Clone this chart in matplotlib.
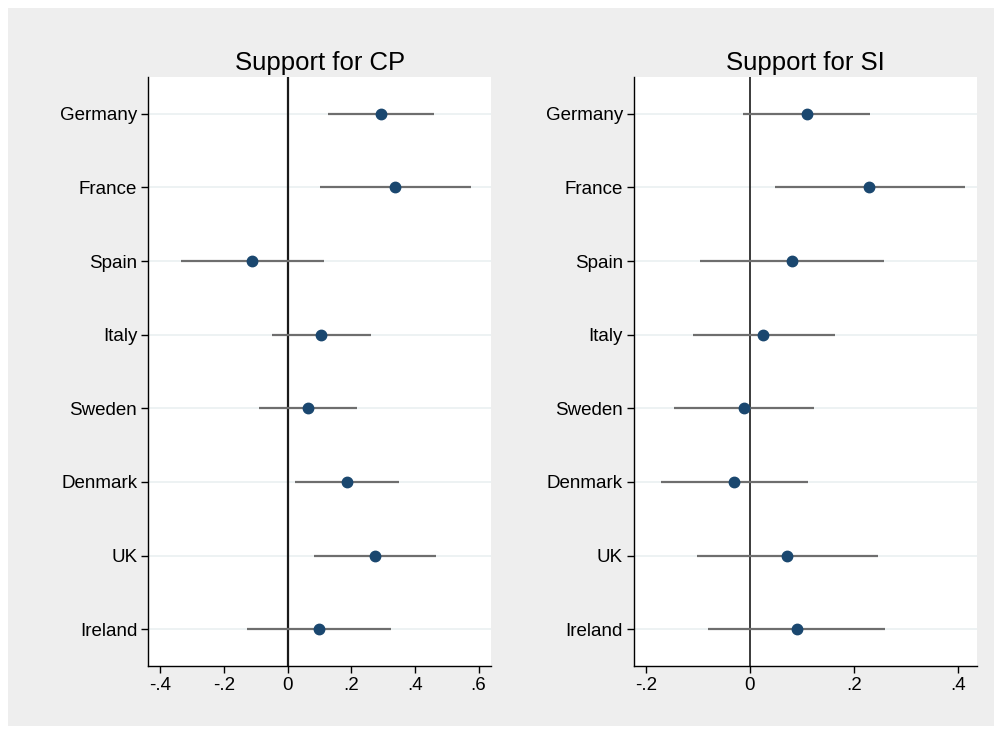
import numpy as np
import matplotlib.pyplot as plt
from matplotlib.patches import Rectangle

countries = ["Germany", "France", "Spain", "Italy", "Sweden", "Denmark", "UK", "Ireland"]

# Support for CP: point estimate and 95% interval
cp_est = [0.293, 0.337, -0.111, 0.105, 0.063, 0.186, 0.275, 0.098]
cp_lo = [0.128, 0.101, -0.335, -0.050, -0.090, 0.024, 0.083, -0.129]
cp_hi = [0.460, 0.575, 0.113, 0.262, 0.218, 0.350, 0.467, 0.324]

# Support for SI
si_est = [0.109, 0.229, 0.080, 0.026, -0.012, -0.031, 0.072, 0.090]
si_lo = [-0.013, 0.049, -0.097, -0.110, -0.147, -0.172, -0.101, -0.081]
si_hi = [0.231, 0.413, 0.257, 0.163, 0.124, 0.112, 0.246, 0.260]

cp_ticks = [-0.4, -0.2, 0, 0.2, 0.4, 0.6]
cp_ticklabels = ["-.4", "-.2", "0", ".2", ".4", ".6"]
si_ticks = [-0.2, 0, 0.2, 0.4]
si_ticklabels = ["-.2", "0", ".2", ".4"]

plt.rcParams['font.family'] = ['Liberation Sans', 'DejaVu Sans']

W, H = 1002, 734
fig = plt.figure(figsize=(W / 100, H / 100), dpi=100, facecolor='white')
# gray graph region
fig.patches.append(Rectangle((8 / W, 8 / H), 986 / W, 718 / H, transform=fig.transFigure,
                             facecolor='#eeeeee', edgecolor='none', zorder=-10))

navy = '#1a476f'
bar_col = '#6e6e6e'
grid_col = '#eaf0f1'


def panel(rect, title, est, lo, hi, xlim, ticks, ticklabels, zero_lw):
    ax = fig.add_axes(rect)
    ax.set_facecolor('white')
    y = np.arange(len(countries), 0, -1)
    for yy in y:
        ax.axhline(yy, color=grid_col, lw=1.2, zorder=0)
    ax.axvline(0, color='#1a1a1a', lw=zero_lw, zorder=1)
    ax.hlines(y, lo, hi, color=bar_col, lw=1.6, zorder=2)
    ax.plot(est, y, 'o', color=navy, ms=7.5, zorder=3)
    ax.set_xlim(*xlim)
    ax.set_ylim(0.5, len(countries) + 0.5)
    ax.set_yticks(y)
    ax.set_yticklabels(countries, fontsize=13.5)
    ax.set_xticks(ticks)
    ax.set_xticklabels(ticklabels, fontsize=13.5)
    ax.tick_params(axis='both', direction='out', length=5, width=1, color='black', pad=3)
    for s in ['top', 'right']:
        ax.spines[s].set_visible(False)
    for s in ['left', 'bottom']:
        ax.spines[s].set_color('black')
        ax.spines[s].set_linewidth(1)
    ax.set_title(title, fontsize=18.5, pad=5)
    return ax


panel([148.3 / W, (H - 666) / H, 342.7 / W, 589 / H], "Support for CP",
      cp_est, cp_lo, cp_hi, (-0.438, 0.639), cp_ticks, cp_ticklabels, 1.6)
panel([634 / W, (H - 666) / H, 342.7 / W, 589 / H], "Support for SI",
      si_est, si_lo, si_hi, (-0.223, 0.436), si_ticks, si_ticklabels, 1.2)

fig.savefig('out.png', dpi=100, facecolor='white')
